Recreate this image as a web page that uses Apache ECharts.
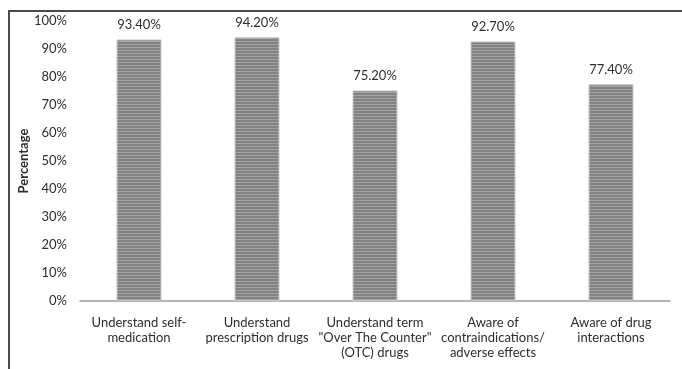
<!DOCTYPE html>
<html>
<head>
<meta charset="utf-8">
<script src="https://cdn.jsdelivr.net/npm/echarts@6/dist/echarts.min.js"></script>
<style>
  html, body { margin: 0; padding: 0; background: #fff; }
  #frame { position: absolute; left: 8px; top: 10px; width: 700px; height: 400px;
           border-top: 2px solid #4a4a4a; border-left: 2px solid #4a4a4a; box-sizing: border-box; }
  #chart { position: absolute; left: 0; top: 0; width: 682px; height: 369px; }
</style>
</head>
<body>
<div id="frame"></div>
<div id="chart"></div>
<script>
const categories = [
  'Understand self-\nmedication',
  'Understand\nprescription drugs',
  'Understand term\n"Over The Counter"\n(OTC) drugs',
  'Aware of\ncontraindications/\nadverse effects',
  'Aware of drug\ninteractions'
];
const values = [93.4, 94.2, 75.2, 92.7, 77.4];
const yTicks = [0, 10, 20, 30, 40, 50, 60, 70, 80, 90, 100];

// Horizontal-striped fill for the bars
const tile = document.createElement('canvas');
tile.width = 4; tile.height = 3;
const tctx = tile.getContext('2d');
tctx.fillStyle = '#828282'; tctx.fillRect(0, 0, 4, 2);
tctx.fillStyle = '#a4a4a4'; tctx.fillRect(0, 2, 4, 1);

const chart = echarts.init(document.getElementById('chart'));
const font = 'Lato, "Open Sans", sans-serif';
const textColor = '#2e2e2e';
chart.setOption({
  animation: false,
  grid: { left: 80, right: 12, top: 21, bottom: 68 },
  xAxis: {
    type: 'category',
    data: categories,
    axisLine: { lineStyle: { color: '#9a9a9a', width: 1.5 } },
    axisTick: { show: false },
    axisLabel: { color: textColor, fontFamily: font, fontSize: 13, lineHeight: 15, margin: 14, interval: 0 }
  },
  yAxis: {
    type: 'value',
    min: yTicks[0], max: yTicks[yTicks.length - 1], interval: 10,
    name: 'Percentage',
    nameLocation: 'middle',
    nameGap: 50,
    nameMoveOverlap: false,
    nameTextStyle: { color: textColor, fontFamily: font, fontSize: 13, fontWeight: 'bold' },
    splitLine: { show: false },
    axisLine: { show: false },
    axisTick: { show: false },
    axisLabel: { color: textColor, fontFamily: font, fontSize: 13, margin: 13, formatter: v => v + '%' }
  },
  series: [{
    type: 'bar',
    data: values,
    barWidth: 45,
    itemStyle: { color: { image: tile, repeat: 'repeat' }, borderColor: '#c8c8c8', borderWidth: 1 },
    label: {
      show: true, position: 'top', distance: 8,
      color: textColor, fontFamily: font, fontSize: 13,
      formatter: p => p.value.toFixed(2) + '%'
    }
  }]
});
</script>
</body>
</html>
